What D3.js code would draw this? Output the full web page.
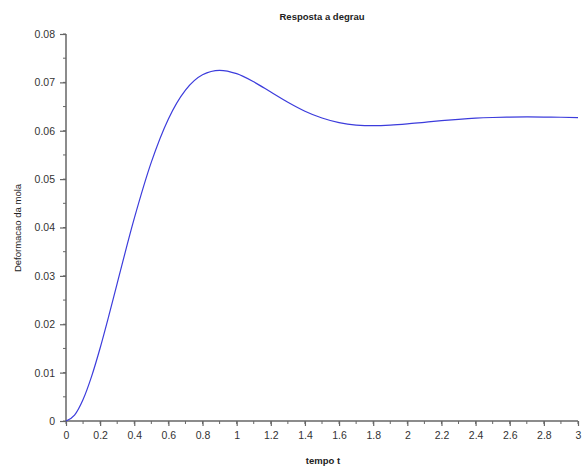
<!DOCTYPE html>
<html><head><meta charset="utf-8">
<script src="https://cdn.jsdelivr.net/npm/d3@7"></script>
<style>body{margin:0;background:#fff}svg{display:block;font-family:"Liberation Sans",Arial,sans-serif}</style>
</head><body><svg id="c" width="582" height="471"></svg>
<script>
const tempo = [0,0.05,0.1,0.15,0.2,0.25,0.3,0.4,0.5,0.6,0.7,0.8,0.9,1.0,1.1,1.2,1.3,1.4,1.5,1.6,1.7,1.8,1.9,2.0,2.1,2.2,2.3,2.4,2.5,2.6,2.7,2.8,2.9,3.0];
const deformacao = [0,0.00120,0.00443,0.00922,0.01509,0.02163,0.02846,0.04187,0.05351,0.06245,0.06840,0.07158,0.07250,0.07180,0.07011,0.06800,0.06589,0.06404,0.06263,0.06168,0.06118,0.06104,0.06115,0.06141,0.06175,0.06208,0.06237,0.06260,0.06274,0.06282,0.06285,0.06283,0.06279,0.06270];
const xTicks = [0,0.2,0.4,0.6,0.8,1,1.2,1.4,1.6,1.8,2,2.2,2.4,2.6,2.8,3];
const yTicks = [0,0.01,0.02,0.03,0.04,0.05,0.06,0.07,0.08];
const titleText = "Resposta a degrau";
const xLabel = "tempo t";
const yLabel = "Deformacao da mola";

const svg = d3.select("#c");
const x = d3.scaleLinear().domain([0,3]).range([66,578]);
const y = d3.scaleLinear().domain([0,0.08]).range([421,34]);
const axisCol = "#666";
const textCol = "#333";

// minor ticks
const xMinor = d3.range(0,31).map(i=>i/10);
const yMinor = d3.range(0,17).map(i=>i*0.005);
svg.append("g").selectAll("line").data(xMinor).join("line")
  .attr("x1",d=>x(d)).attr("x2",d=>x(d)).attr("y1",421).attr("y2",424)
  .attr("stroke",axisCol).attr("stroke-width",1);
svg.append("g").selectAll("line").data(yMinor).join("line")
  .attr("x1",63).attr("x2",66).attr("y1",d=>y(d)).attr("y2",d=>y(d))
  .attr("stroke",axisCol).attr("stroke-width",1);

const xAxis = d3.axisBottom(x).tickValues(xTicks).tickSize(5).tickPadding(6).tickFormat(d=>String(+d.toFixed(1)));
const gx = svg.append("g").attr("transform","translate(0,421)").call(xAxis);
const yAxis = d3.axisLeft(y).tickValues(yTicks).tickSize(6).tickPadding(5).tickFormat(d=>d===0?"0":d.toFixed(2));
const gy = svg.append("g").attr("transform","translate(66,0)").call(yAxis);
[gx,gy].forEach(g=>{
  g.select(".domain").attr("stroke",axisCol).attr("stroke-width",1.5);
  g.selectAll(".tick line").attr("stroke",axisCol).attr("stroke-width",1.2);
  g.selectAll(".tick text").attr("fill",textCol).attr("font-size",10.5).attr("font-family","Liberation Sans, Arial, sans-serif");
});
gx.select(".domain").attr("d","M66,0H578");
gy.select(".domain").attr("d","M0,421V34");

const line = d3.line().x((d,i)=>x(tempo[i])).y(d=>y(d)).curve(d3.curveMonotoneX);
svg.append("path").datum(deformacao).attr("d",line)
  .attr("fill","none").attr("stroke","#3c3cdc").attr("stroke-width",1.2);

svg.append("text").attr("x",322).attr("y",20).attr("text-anchor","middle")
  .attr("font-size",9.5).attr("fill","#222").attr("font-weight","bold").text(titleText);
svg.append("text").attr("x",323).attr("y",464).attr("text-anchor","middle")
  .attr("font-size",9.5).attr("fill","#222").attr("font-weight","bold").text(xLabel);
svg.append("text").attr("transform","translate(21,228) rotate(-90)").attr("text-anchor","middle")
  .attr("font-size",9.5).attr("fill","#222").text(yLabel);
</script></body></html>
